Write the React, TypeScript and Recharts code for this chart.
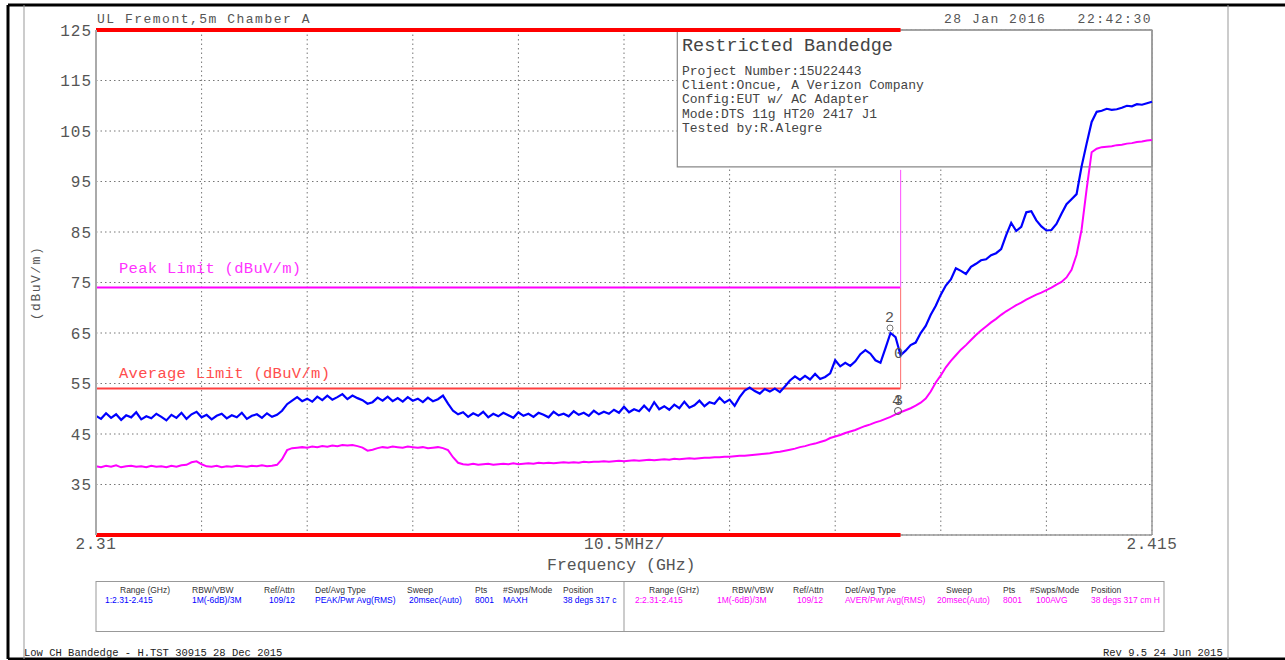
import React from 'react';
import {
    LineChart,
    Line,
    XAxis,
    YAxis,
    CartesianGrid,
    ReferenceLine,
    ReferenceArea,
} from 'recharts';

// sweep: 2.31 -> 2.415 GHz, one value every 0.5 MHz
const F_START = 2.31;
const F_STEP = 0.0005;

// trace 1: PEAK / MAXH (dBuV/m)
const peakTrace = [
    48.6, 48.0, 49.1, 48.2, 48.9, 47.8, 48.7, 48.3, 49.3, 47.9,
    48.5, 48.1, 49.0, 48.4, 47.7, 48.8, 48.2, 49.2, 48.0, 48.9,
    49.4, 48.3, 48.8, 47.9, 48.6, 49.0, 48.1, 48.7, 48.3, 49.2,
    48.0, 48.6, 48.9, 48.2, 49.1, 48.4, 48.8, 49.6, 50.9, 51.6,
    52.3, 51.5, 52.0, 51.4, 52.4, 51.7, 52.6, 51.8, 52.3, 52.9,
    51.9, 52.6, 52.1, 51.7, 51.0, 51.3, 52.2, 51.6, 52.4, 51.5,
    52.1, 51.4, 52.3, 51.6, 52.0, 51.3, 52.2, 51.5, 51.9, 52.6,
    51.0, 49.6, 48.9, 49.3, 48.4, 49.1, 48.6, 49.4, 48.3, 49.0,
    48.5, 49.2, 48.7, 48.2, 49.3, 48.6, 49.0, 48.4, 49.2, 48.8,
    48.3, 49.4, 48.7, 49.0, 48.5, 49.5, 48.8, 49.2, 48.6, 49.6,
    48.9, 49.4, 49.0, 49.8, 49.2, 50.4, 49.3, 49.9, 49.5, 50.6,
    49.6, 51.3, 49.9, 50.5, 49.8, 50.8, 50.1, 51.4, 50.2, 50.7,
    51.6, 50.5, 51.3, 51.0, 52.2, 51.2, 51.8, 50.6, 52.3, 53.6,
    54.2, 53.5, 53.0, 53.9, 53.4, 54.0, 53.3, 54.4, 55.6, 56.4,
    55.7, 56.5, 55.8, 56.9, 55.9, 56.3, 57.0, 59.6, 58.4, 59.1,
    58.5, 59.4, 60.8, 61.6, 60.9, 59.6, 59.1, 62.0, 65.0, 64.2,
    60.6, 61.5, 62.6, 63.1, 65.0, 66.4, 68.6, 70.4, 72.6, 74.4,
    75.6, 77.8, 77.3, 76.7, 78.1, 78.7, 79.4, 79.6, 80.4, 80.8,
    81.6, 84.4, 86.8, 85.2, 86.0, 88.9, 89.1, 87.3, 86.1, 85.3,
    85.4, 86.6, 88.6, 90.5, 91.5, 92.5, 98.0, 102.5, 106.8, 108.8,
    109.0, 109.4, 109.2, 109.3, 109.6, 110.0, 109.9, 110.3, 110.2, 110.5, 110.8,
];

// trace 2: AVER / 100AVG (dBuV/m)
const avgTrace = [
    38.6, 38.4, 38.7, 38.5, 38.8, 38.4, 38.6, 38.7, 38.5, 38.6,
    38.4, 38.7, 38.5, 38.6, 38.4, 38.7, 38.5, 38.8, 38.9, 39.4,
    39.6, 39.0, 38.6, 38.5, 38.7, 38.4, 38.6, 38.5, 38.7, 38.6,
    38.5, 38.7, 38.6, 38.8, 38.6, 38.7, 38.9, 40.0, 41.8, 42.2,
    42.3, 42.4, 42.3, 42.5, 42.4, 42.6, 42.5, 42.7, 42.6, 42.8,
    42.7, 42.8, 42.6, 42.3, 41.7, 41.9, 42.2, 42.4, 42.3, 42.5,
    42.4, 42.3, 42.5, 42.4, 42.3, 42.4, 42.2, 42.3, 42.4, 42.2,
    41.8, 40.4, 39.3, 39.0, 38.9, 39.1, 38.9, 39.0, 39.1, 38.9,
    39.0, 39.1, 39.0, 39.2, 39.0, 39.1, 39.2, 39.1, 39.3, 39.2,
    39.3, 39.2, 39.3, 39.4, 39.3, 39.4, 39.3, 39.5, 39.4, 39.5,
    39.5, 39.6, 39.5, 39.6, 39.7, 39.6, 39.7, 39.8, 39.7, 39.8,
    39.9, 39.8, 39.9, 40.0, 39.9, 40.1, 40.0, 40.1, 40.2, 40.1,
    40.2, 40.3, 40.3, 40.4, 40.4, 40.5, 40.5, 40.6, 40.7, 40.7,
    40.8, 40.9, 41.0, 41.1, 41.2, 41.4, 41.5, 41.7, 41.9, 42.1,
    42.4, 42.6, 42.9, 43.1, 43.4, 43.7, 44.2, 44.5, 44.8, 45.2,
    45.5, 45.8, 46.2, 46.6, 46.9, 47.3, 47.6, 48.0, 48.4, 48.9,
    49.3, 49.7, 50.1, 50.6, 51.2, 52.0, 53.4, 55.2, 56.6, 58.2,
    59.5, 60.6, 61.7, 62.6, 63.6, 64.6, 65.5, 66.3, 67.1, 67.8,
    68.6, 69.3, 69.9, 70.5, 71.0, 71.6, 72.1, 72.6, 73.0, 73.5,
    74.0, 74.6, 75.1, 76.0, 77.5, 80.5, 85.5, 93.5, 100.8, 101.5,
    101.8, 101.9, 102.0, 102.2, 102.3, 102.5, 102.6, 102.8, 102.9, 103.1, 103.2,
];

const xTicks = [2.31, 2.3205, 2.331, 2.3415, 2.352, 2.3625, 2.373, 2.3835, 2.394, 2.4045, 2.415];
const xTickLabels = ['2.31', '', '', '', '', '', '', '', '', '', '2.415'];
const yTicks = [25, 35, 45, 55, 65, 75, 85, 95, 105, 115, 125];

// limits
const BAND_EDGE = 2.39;
const PEAK_LIMIT = 74;
const PEAK_LIMIT_TOP = 97.3;
const AVG_LIMIT = 54;

const infoLines = [
    'Project Number:15U22443',
    'Client:Oncue, A Verizon Company',
    'Config:EUT w/ AC Adapter',
    'Mode:DTS 11g HT20 2417 J1',
    'Tested by:R.Alegre',
];

const tableHeads = ['Range (GHz)', 'RBW/VBW', 'Ref/Attn', 'Det/Avg Type', 'Sweep', 'Pts', '#Swps/Mode', 'Position'];
const trace1Row = ['1:2.31-2.415', '1M(-6dB)/3M', '109/12', 'PEAK/Pwr Avg(RMS)', '20msec(Auto)', '8001', 'MAXH', '38 degs 317 cm H'];
const trace2Row = ['2:2.31-2.415', '1M(-6dB)/3M', '109/12', 'AVER/Pwr Avg(RMS)', '20msec(Auto)', '8001', '100AVG', '38 degs 317 cm H'];

const data = peakTrace.map((v, i) => ({
    f: +(F_START + i * F_STEP).toFixed(4),
    peak: v,
    avg: avgTrace[i],
}));

const MONO = "'Liberation Mono', 'DejaVu Sans Mono', monospace";
const GRAY = '#555';

const headX1 = [120, 192, 264, 315, 407, 475, 503, 563];
const valX1 = [105, 192, 269, 315, 409, 475, 503, 563];
const headX2 = [649, 732, 793, 845, 946, 1003, 1030, 1091];
const valX2 = [635, 717, 797, 845, 937, 1003, 1036, 1091];

function Overlay() {
    return (
        <svg width={1285} height={660} style={{ position: 'absolute', left: 0, top: 0, pointerEvents: 'none' }}>
            <defs>
                <clipPath id="tblClip">
                    <rect x={96} y={580} width={1068} height={53} />
                </clipPath>
            </defs>
            {/* page frame */}
            <line x1={8} y1={5} x2={1285} y2={5} stroke="#000" strokeWidth={3} />
            <line x1={8} y1={5} x2={8} y2={659} stroke="#000" strokeWidth={3} />
            <line x1={8} y1={659} x2={1285} y2={659} stroke="#000" strokeWidth={3} />
            <line x1={24} y1={5} x2={24} y2={659} stroke="#999" strokeWidth={1} />
            <line x1={1228} y1={5} x2={1228} y2={659} stroke="#999" strokeWidth={1} />

            <g fontFamily={MONO} fill={GRAY}>
                <text x={97} y={23} fontSize={13} letterSpacing={1.5}>UL Fremont,5m Chamber A</text>
                <text x={944} y={23} fontSize={13} letterSpacing={1.5}>28 Jan 2016</text>
                <text x={1152} y={23} fontSize={13} letterSpacing={1.5} textAnchor="end">22:42:30</text>

                <text x={40} y={283} fontSize={13} letterSpacing={1.5} textAnchor="middle" transform="rotate(-90 40 283)">(dBuV/m)</text>

                <text x={584} y={549} fontSize={16} letterSpacing={0.5}>10.5MHz/</text>
                <text x={547} y={570} fontSize={16.5}>Frequency (GHz)</text>

                <text x={682} y={51} fontSize={18.5} fill="#444">Restricted Bandedge</text>
                {infoLines.map((t, i) => (
                    <text key={t} x={682} y={75 + i * 14.2} fontSize={13} fill="#444">{t}</text>
                ))}

                {/* markers */}
                <text x={885} y={322} fontSize={15}>2</text>
                <circle cx={890} cy={328} r={3} fill="none" stroke="#777" />
                <text x={894} y={358} fontSize={15}>0</text>
                <text x={892} y={405} fontSize={15}>4</text>
                <text x={894} y={405} fontSize={15}>3</text>
                <circle cx={898} cy={411} r={3.5} fill="none" stroke="#555" />

                <text x={24} y={656} fontSize={10.5} fill="#222">Low CH Bandedge - H.TST 30915 28 Dec 2015</text>
                <text x={1103} y={656} fontSize={10.5} fill="#222">Rev 9.5 24 Jun 2015</text>
            </g>

            <text x={119} y={273} fontFamily={MONO} fontSize={15.5} letterSpacing={0.3} fill="#ff33ff">Peak Limit (dBuV/m)</text>
            <text x={119} y={378} fontFamily={MONO} fontSize={15.5} letterSpacing={0.3} fill="#ff4d4d">Average Limit (dBuV/m)</text>

            {/* trace settings table */}
            <rect x={96} y={581.5} width={1068} height={50} fill="none" stroke="#999" strokeWidth={1} />
            <line x1={624} y1={581.5} x2={624} y2={631.5} stroke="#999" strokeWidth={1} />
            <g fontFamily="'Liberation Sans', Arial, sans-serif" fontSize={8.5} clipPath="url(#tblClip)">
                {tableHeads.map((t, i) => (
                    <text key={'h1' + i} x={headX1[i]} y={593} fill="#333">{t}</text>
                ))}
                {trace1Row.map((t, i) => (
                    <text key={'v1' + i} x={valX1[i]} y={603} fill="#0000ff">{i === 7 ? t.slice(0, 13) : t}</text>
                ))}
                {tableHeads.map((t, i) => (
                    <text key={'h2' + i} x={headX2[i]} y={593} fill="#333">{t}</text>
                ))}
                {trace2Row.map((t, i) => (
                    <text key={'v2' + i} x={valX2[i]} y={603} fill="#ff00ff">{t}</text>
                ))}
            </g>
        </svg>
    );
}

export default function App() {
    return (
        <div style={{ position: 'absolute', left: 0, top: 0, width: 1285, height: 660, background: '#fff' }}>
            <LineChart
                width={1285}
                height={660}
                data={data}
                margin={{ top: 30, right: 133, left: 36, bottom: 95 }}
            >
                <CartesianGrid stroke="#777" strokeDasharray="1.5 3" />
                <XAxis
                    dataKey="f"
                    type="number"
                    domain={[2.31, 2.415]}
                    ticks={xTicks}
                    interval={0}
                    height={30}
                    tickLine={false}
                    tickSize={0}
                    tickMargin={3}
                    axisLine={false}
                    tickFormatter={(v, i) => xTickLabels[i]}
                    tick={{ fill: GRAY, fontSize: 16, fontFamily: MONO, letterSpacing: 0.6 }}
                />
                <YAxis
                    type="number"
                    domain={[25, 125]}
                    ticks={yTicks}
                    interval={0}
                    width={60}
                    tickLine={false}
                    tickSize={0}
                    tickMargin={4}
                    axisLine={{ stroke: '#aaa', strokeWidth: 2 }}
                    tickFormatter={(v) => (v === 25 ? '' : String(v))}
                    tick={{ fill: GRAY, fontSize: 16, fontFamily: MONO, letterSpacing: 1 }}
                />
                <ReferenceArea x1={2.3678} x2={2.415} y1={97.9} y2={125} fill="#fff" fillOpacity={1} stroke="#888" strokeWidth={1.2} ifOverflow="visible" />
                <ReferenceLine y={125} stroke="#999" strokeWidth={1.5} />
                <ReferenceLine y={25} stroke="#999" strokeWidth={1.5} />
                <ReferenceLine x={2.415} stroke="#999" strokeWidth={1.5} />

                {/* limit lines */}
                <ReferenceLine segment={[{ x: 2.31, y: PEAK_LIMIT }, { x: BAND_EDGE, y: PEAK_LIMIT }]} stroke="#ff00ff" strokeWidth={2} />
                <ReferenceLine segment={[{ x: BAND_EDGE, y: PEAK_LIMIT }, { x: BAND_EDGE, y: PEAK_LIMIT_TOP }]} stroke="#ff66ff" strokeWidth={1.2} />
                <ReferenceLine segment={[{ x: 2.31, y: AVG_LIMIT }, { x: BAND_EDGE, y: AVG_LIMIT }]} stroke="#ff4040" strokeWidth={2} />
                <ReferenceLine segment={[{ x: BAND_EDGE, y: AVG_LIMIT }, { x: BAND_EDGE, y: PEAK_LIMIT }]} stroke="#ff8080" strokeWidth={1.2} />
                <ReferenceLine segment={[{ x: 2.31, y: 125 }, { x: BAND_EDGE, y: 125 }]} stroke="#ff0000" strokeWidth={4} />
                <ReferenceLine segment={[{ x: 2.31, y: 25 }, { x: BAND_EDGE, y: 25 }]} stroke="#ff0000" strokeWidth={4} />

                <Line type="linear" dataKey="avg" stroke="#ff00ff" strokeWidth={2} dot={false} isAnimationActive={false} />
                <Line type="linear" dataKey="peak" stroke="#0000ff" strokeWidth={2.2} dot={false} isAnimationActive={false} />
            </LineChart>
            <Overlay />
        </div>
    );
}
